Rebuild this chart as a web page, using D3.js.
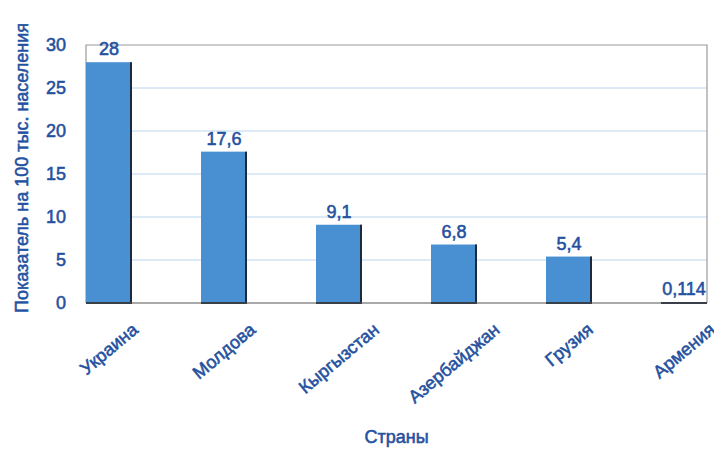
<!DOCTYPE html>
<html><head><meta charset="utf-8">
<script src="https://cdn.jsdelivr.net/npm/d3@7"></script>
<style>
html,body{margin:0;padding:0;background:#fff;}
svg text{font-family:"Liberation Sans",Arial,Helvetica,sans-serif;}
</style></head>
<body><svg id="chart" width="714" height="449"></svg>
<script>
const categories = ["Украина","Молдова","Кыргызстан","Азербайджан","Грузия","Армения"];
const values = [28, 17.6, 9.1, 6.8, 5.4, 0.114];
const valueLabels = ["28","17,6","9,1","6,8","5,4","0,114"];
const yTicks = [0,5,10,15,20,25,30];
const yTitle = "Показатель на 100 тыс. населения";
const xTitle = "Страны";

const svg = d3.select("#chart");
const m = {left:86, right:707, top:45, bottom:303};
const textColor = "#24519f";
const fs = 18;
const fw = "normal";
const sw = 0.55; // stroke to mimic medium weight

function styleText(sel){
  sel.attr("font-size", fs).attr("font-weight", fw).attr("fill", textColor)
     .attr("stroke", textColor).attr("stroke-width", sw)
     .style("font-family","'Liberation Sans',Arial,sans-serif");
}

const x = d3.scaleBand().domain(categories).range([m.left, m.right]).paddingInner(0.6).paddingOuter(0);
const y = d3.scaleLinear().domain([0,30]).range([m.bottom, m.top]);

// grid lines
svg.append("g").selectAll("line").data(yTicks.filter(t=>t>0 && t<30)).join("line")
  .attr("x1", m.left).attr("x2", m.right)
  .attr("y1", d=>y(d)).attr("y2", d=>y(d))
  .attr("stroke", "#b9d6ee").attr("stroke-width", 1);

// frame
svg.append("path")
  .attr("d", `M${m.left},${m.bottom}V${m.top}H${m.right}V${m.bottom}`)
  .attr("fill","none").attr("stroke","#9a9a9a").attr("stroke-width",1.2);

// y axis
const yAxis = d3.axisLeft(y).tickValues(yTicks).tickSize(0).tickPadding(20);
const ga = svg.append("g").attr("transform",`translate(${m.left},0)`).call(yAxis);
ga.select(".domain").remove();
ga.selectAll("text").call(styleText);

// bars
const bars = svg.append("g").selectAll("g").data(categories).join("g");
bars.append("rect")
  .attr("x", d=>x(d)).attr("width", x.bandwidth())
  .attr("y", (d,i)=>y(values[i])).attr("height", (d,i)=>y(0)-y(values[i]))
  .attr("fill", "#4890d2");
bars.append("path")
  .attr("d", (d,i)=>`M${x(d)+x.bandwidth()-1},${y(values[i])}V${y(0)}H${x(d)}`)
  .attr("fill","none").attr("stroke","#1d2a3c").attr("stroke-width",2);

// bottom axis line
svg.append("line").attr("x1",m.left).attr("x2",m.right).attr("y1",m.bottom).attr("y2",m.bottom)
  .attr("stroke","#555").attr("stroke-width",1.2);

// value labels
svg.append("g").selectAll("text").data(categories).join("text")
  .attr("x", d=>x(d)+x.bandwidth()/2)
  .attr("y", (d,i)=>y(values[i])-7)
  .attr("text-anchor","middle").call(styleText)
  .text((d,i)=>valueLabels[i]);

// x category labels, rotated
const ang = 40, rad = ang*Math.PI/180, h = 13, topY = 322;
svg.append("g").selectAll("text").data(categories).join("text")
  .attr("text-anchor","middle").attr("dominant-baseline","central")
  .call(styleText)
  .text(d=>d)
  .each(function(d){
    const L = this.getComputedTextLength();
    const H = L*Math.sin(rad) + h*Math.cos(rad);
    const cx = x(d)+x.bandwidth()/2, cy = topY + H/2;
    d3.select(this).attr("transform",`translate(${cx},${cy}) rotate(${-ang})`);
  });

// axis titles
svg.append("text").attr("transform",`translate(28,168) rotate(-90)`)
  .attr("text-anchor","middle").call(styleText).text(yTitle);
svg.append("text").attr("x",(m.left+m.right)/2).attr("y",443)
  .attr("text-anchor","middle").call(styleText).text(xTitle);
</script></body></html>
